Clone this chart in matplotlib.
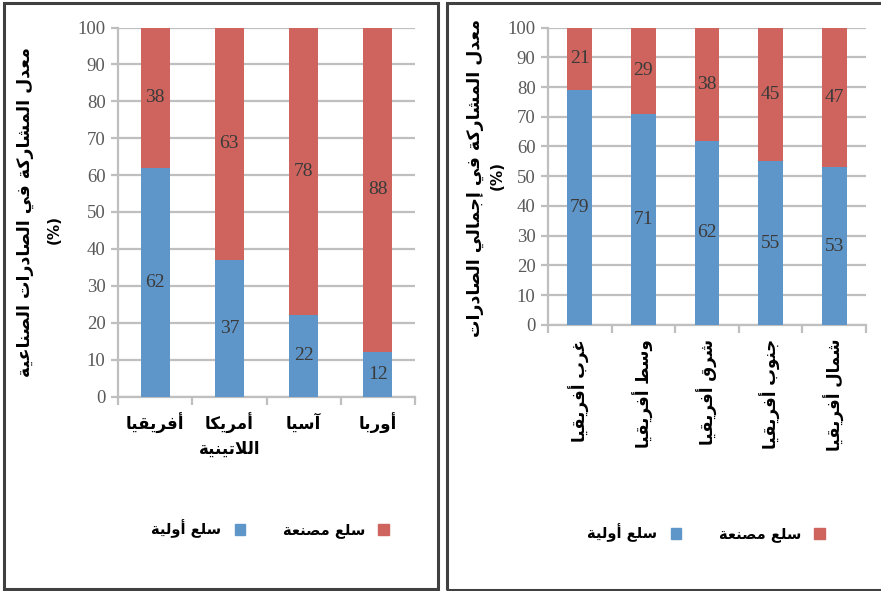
import matplotlib
matplotlib.use("Agg")
import matplotlib.pyplot as plt
from matplotlib.patches import Rectangle, Patch
import numpy as np

# ---------------- data ----------------
left_categories = ["أفريقيا", "أمريكا\nاللاتينية", "آسيا", "أوربا"]
left_primary = [62, 37, 22, 12]
left_manufactured = [38, 63, 78, 88]

right_categories = ["غرب أفريقيا", "وسط أفريقيا", "شرق أفريقيا", "جنوب أفريقيا", "شمال أفريقيا"]
right_primary = [79, 71, 62, 55, 53]
right_manufactured = [21, 29, 38, 45, 47]

yticks = [0, 10, 20, 30, 40, 50, 60, 70, 80, 90, 100]
legend_primary = "سلع أولية"
legend_manufactured = "سلع مصنعة"
left_ylabel = "معدل المشاركة في الصادرات الصناعية"
right_ylabel = "معدل المشاركة في إجمالي الصادرات"
pct_label = "(%)"

# ---------------- Arabic shaping (presentation forms + visual order) ----------------
FORMS = {
    'ا': ('\uFE8D', '\uFE8E', None, None),
    'أ': ('\uFE83', '\uFE84', None, None),
    'إ': ('\uFE87', '\uFE88', None, None),
    'آ': ('\uFE81', '\uFE82', None, None),
    'ب': ('\uFE8F', '\uFE90', '\uFE91', '\uFE92'),
    'ت': ('\uFE95', '\uFE96', '\uFE97', '\uFE98'),
    'ة': ('\uFE93', '\uFE94', None, None),
    'ج': ('\uFE9D', '\uFE9E', '\uFE9F', '\uFEA0'),
    'د': ('\uFEA9', '\uFEAA', None, None),
    'ر': ('\uFEAD', '\uFEAE', None, None),
    'س': ('\uFEB1', '\uFEB2', '\uFEB3', '\uFEB4'),
    'ش': ('\uFEB5', '\uFEB6', '\uFEB7', '\uFEB8'),
    'ص': ('\uFEB9', '\uFEBA', '\uFEBB', '\uFEBC'),
    'ط': ('\uFEC1', '\uFEC2', '\uFEC3', '\uFEC4'),
    'ع': ('\uFEC9', '\uFECA', '\uFECB', '\uFECC'),
    'غ': ('\uFECD', '\uFECE', '\uFECF', '\uFED0'),
    'ف': ('\uFED1', '\uFED2', '\uFED3', '\uFED4'),
    'ق': ('\uFED5', '\uFED6', '\uFED7', '\uFED8'),
    'ك': ('\uFED9', '\uFEDA', '\uFEDB', '\uFEDC'),
    'ل': ('\uFEDD', '\uFEDE', '\uFEDF', '\uFEE0'),
    'م': ('\uFEE1', '\uFEE2', '\uFEE3', '\uFEE4'),
    'ن': ('\uFEE5', '\uFEE6', '\uFEE7', '\uFEE8'),
    'ه': ('\uFEE9', '\uFEEA', '\uFEEB', '\uFEEC'),
    'و': ('\uFEED', '\uFEEE', None, None),
    'ي': ('\uFEF1', '\uFEF2', '\uFEF3', '\uFEF4'),
}
LAM_ALEF = {'ا': ('\uFEFB', '\uFEFC'), 'أ': ('\uFEF7', '\uFEF8'),
            'إ': ('\uFEF9', '\uFEFA'), 'آ': ('\uFEF5', '\uFEF6')}


def _shape_line(text):
    items = []
    i = 0
    while i < len(text):
        c = text[i]
        if c == 'ل' and i + 1 < len(text) and text[i + 1] in LAM_ALEF:
            items.append(('LA', text[i + 1]))
            i += 2
        else:
            items.append(c)
            i += 1

    def dual(it):
        return (not isinstance(it, tuple)) and it in FORMS and FORMS[it][2] is not None

    def arabic(it):
        return isinstance(it, tuple) or it in FORMS

    out = []
    for k, it in enumerate(items):
        prev = items[k - 1] if k > 0 else None
        nxt = items[k + 1] if k + 1 < len(items) else None
        cp = prev is not None and dual(prev)
        if isinstance(it, tuple):
            iso, fin = LAM_ALEF[it[1]]
            out.append(fin if cp else iso)
            continue
        if it not in FORMS:
            out.append(it)
            continue
        iso, fin, ini, med = FORMS[it]
        cn = ini is not None and nxt is not None and arabic(nxt)
        if cp and cn:
            out.append(med)
        elif cp:
            out.append(fin)
        elif cn:
            out.append(ini)
        else:
            out.append(iso)
    return ''.join(reversed(out))


def ar(text):
    return '\n'.join(_shape_line(l) for l in text.split('\n'))


# ---------------- style ----------------
BLUE = '#5F96CA'
RED = '#CE645D'
GRID = '#BFBFBF'
TICKC = '#595959'
VALC = '#3A3A3A'
AR_FONT = ['DejaVu Sans']
NUM_FONT = ['Liberation Serif', 'DejaVu Serif']

W, H = 881, 591
fig = plt.figure(figsize=(W / 100, H / 100), dpi=100)


def fx(px):
    return px / W


def fy(py):
    return 1 - py / H


# panel borders
fig.patches.append(Rectangle((fx(4), fy(589)), fx(438) - fx(4), fy(3) - fy(589),
                             transform=fig.transFigure, fill=False,
                             edgecolor='#404040', lw=2.2))
fig.patches.append(Rectangle((fx(447), fy(590)), fx(890) - fx(447), fy(3) - fy(590),
                             transform=fig.transFigure, fill=False,
                             edgecolor='#404040', lw=2.2, clip_on=False))


def make_panel(rect, cats, prim, manu, rotate, tickpad):
    ax = fig.add_axes(rect)
    x = np.arange(len(cats))
    b1 = ax.bar(x, prim, width=0.39, color=BLUE, zorder=3)
    b2 = ax.bar(x, manu, width=0.39, bottom=prim, color=RED, zorder=3)
    for bars in (b1, b2):
        ax.bar_label(bars, label_type='center', color=VALC, fontsize=14,
                     family=NUM_FONT)
    ax.set_xlim(-0.5, len(cats) - 0.5)
    ax.set_ylim(0, 100)
    ax.set_yticks(yticks)
    ax.set_yticklabels([str(t) for t in yticks], family=NUM_FONT, fontsize=13.5,
                       color=TICKC)
    ax.yaxis.grid(True, color=GRID, lw=1.6, zorder=0)
    ax.set_axisbelow(True)
    for s in ('top', 'right'):
        ax.spines[s].set_visible(False)
    for s in ('left', 'bottom'):
        ax.spines[s].set_color(GRID)
        ax.spines[s].set_linewidth(1.6)
    ax.tick_params(axis='y', length=5, color=GRID, width=1.6, pad=4)
    ax.set_xticks(x)
    ax.set_xticks(np.arange(len(cats) + 1) - 0.5, minor=True)
    ax.tick_params(axis='x', which='minor', length=6, color=GRID, width=1.6)
    ax.tick_params(axis='x', which='major', length=0, pad=tickpad)
    ax.set_xticklabels([ar(c) for c in cats], family=AR_FONT, fontweight='bold',
                       fontsize=12, color='black', rotation=90 if rotate else 0,
                       va='top', ha='center', linespacing=1.4)
    return ax


axL = make_panel([fx(118), fy(396.5), fx(415) - fx(118), fy(27.5) - fy(396.5)],
                 left_categories, left_primary, left_manufactured, False, 12)
axR = make_panel([fx(548), fy(325), fx(866) - fx(548), fy(27.5) - fy(325)],
                 right_categories, right_primary, right_manufactured, True, 10)

# y labels
fig.text(fx(25), fy(212), ar(left_ylabel), rotation=90, ha='center', va='center',
         family=AR_FONT, fontweight='bold', fontsize=12.5)
fig.text(fx(54), fy(230), pct_label, rotation=90, ha='center', va='center',
         family=AR_FONT, fontweight='bold', fontsize=11)
fig.text(fx(475), fy(178), ar(right_ylabel), rotation=90, ha='center', va='center',
         family=AR_FONT, fontweight='bold', fontsize=12.5)
fig.text(fx(497), fy(176), pct_label, rotation=90, ha='center', va='center',
         family=AR_FONT, fontweight='bold', fontsize=11)

# legends
for ax, cx, cy in ((axL, 270, 529), (axR, 706, 533)):
    handles = [Patch(color=BLUE, label=ar(legend_primary)),
               Patch(color=RED, label=ar(legend_manufactured))]
    ax.legend(handles=handles, loc='center', bbox_to_anchor=(fx(cx), fy(cy)),
              bbox_transform=fig.transFigure, ncol=2, markerfirst=False,
              frameon=False, handlelength=0.7, handleheight=0.85,
              handletextpad=0.9, columnspacing=2.6,
              prop={'family': AR_FONT, 'weight': 'bold', 'size': 10.5})

fig.savefig('out.png', dpi=100, facecolor='white')
